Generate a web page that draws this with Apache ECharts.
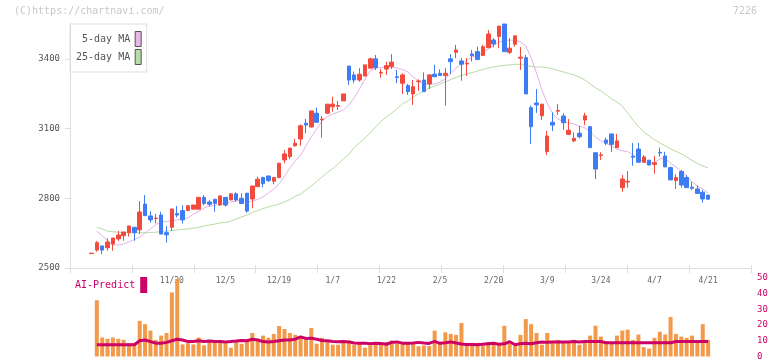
<!DOCTYPE html>
<html><head><meta charset="utf-8">
<script src="https://cdn.jsdelivr.net/npm/echarts@6/dist/echarts.min.js"></script>
<style>html,body{margin:0;padding:0;background:#fff}#c{width:772px;height:361px}</style>
</head><body><div id="c"></div>
<script>
// ---- data ----
const opens  = [2562,2577,2595,2587,2603,2625,2639,2652,2675,2664,2775,2724,2713,2728,2652,2675,2734,2747,2747,2753,2753,2804,2784,2796,2771,2804,2793,2819,2800,2822,2797,2850,2889,2896,2873,2889,2965,2979,3026,3055,3123,3107,3166,3138,3166,3194,3196,3219,3369,3331,3309,3326,3360,3400,3339,3356,3367,3323,3295,3285,3249,3302,3309,3292,3334,3338,3328,3400,3428,3391,3378,3421,3431,3414,3448,3481,3496,3550,3428,3463,3403,3405,3190,3210,3155,3001,3127,3175,3154,3075,3047,3080,3137,3108,2996,2984,3051,3077,3018,2846,2870,2981,3012,2955,2964,2946,2998,2982,2932,2876,2915,2889,2848,2840,2826,2814];
const closes = [2564,2609,2577,2612,2629,2642,2655,2681,2652,2741,2725,2707,2715,2646,2643,2754,2728,2707,2768,2771,2804,2778,2774,2778,2810,2771,2819,2793,2778,2745,2853,2882,2863,2876,2889,2951,2991,3016,3037,3112,3115,3176,3127,3141,3205,3205,3199,3249,3309,3309,3334,3374,3400,3362,3342,3371,3386,3320,3331,3259,3280,3305,3259,3331,3323,3328,3338,3388,3438,3377,3381,3414,3397,3452,3507,3464,3541,3431,3446,3499,3407,3249,3108,3202,3205,3068,3115,3178,3125,3093,3058,3065,3155,3018,2926,2987,3037,3032,3047,2883,2873,2977,2955,2978,2943,2953,2995,2935,2879,2889,2857,2846,2843,2821,2797,2796];
const lows   = [2562,2570,2560,2574,2574,2616,2617,2635,2617,2646,2725,2695,2692,2646,2609,2660,2718,2692,2747,2753,2753,2770,2765,2742,2767,2764,2793,2785,2778,2738,2757,2850,2847,2870,2860,2889,2951,2968,3022,3026,3080,3104,3127,3061,3162,3173,3180,3219,3288,3295,3302,3326,3360,3352,3319,3331,3356,3295,3249,3245,3202,3262,3259,3270,3323,3328,3199,3334,3403,3306,3326,3389,3397,3414,3448,3450,3446,3431,3420,3452,3352,3249,3034,3168,3137,2986,3090,3159,3094,3075,3041,3058,3115,3018,2883,2965,3029,3000,3018,2828,2846,2940,2955,2955,2943,2906,2979,2935,2879,2840,2846,2846,2836,2821,2781,2796];
const highs  = [2564,2616,2595,2628,2629,2659,2655,2681,2675,2788,2814,2744,2732,2742,2681,2754,2767,2770,2771,2771,2804,2814,2793,2796,2814,2804,2822,2826,2822,2822,2853,2893,2893,2896,2889,2951,3008,3016,3055,3118,3141,3176,3190,3154,3205,3237,3219,3249,3369,3345,3360,3374,3405,3417,3356,3388,3420,3352,3338,3292,3309,3312,3342,3334,3374,3355,3360,3420,3460,3403,3403,3438,3452,3460,3524,3489,3541,3550,3489,3499,3451,3417,3199,3270,3205,3090,3170,3205,3166,3141,3084,3111,3168,3111,2996,2998,3061,3077,3077,2900,2917,3038,3039,2986,2964,2982,3018,3000,2936,2903,2921,2900,2871,2854,2836,2814];
const ma5  = [null,2659,2638,2618,2599,2599,2603,2612,2623,2633,2651,2668,2687,2698,2700,2704,2707,2713,2715,2732,2743,2758,2767,2769,2775,2780,2784,2788,2793,2784,2788,2795,2806,2823,2840,2862,2894,2930,2960,2986,3025,3064,3098,3133,3152,3163,3171,3180,3202,3232,3270,3313,3348,3361,3363,3366,3365,3361,3354,3344,3322,3305,3292,3291,3292,3301,3313,3339,3361,3378,3395,3408,3415,3425,3443,3458,3473,3479,3481,3479,3473,3455,3404,3339,3266,3210,3165,3141,3130,3124,3120,3111,3103,3087,3064,3047,3036,3025,3012,3004,3001,2986,2971,2956,2950,2954,2969,2973,2950,2935,2917,2896,2872,2853,2840,2823];
const ma25 = [null,2675,2668,2659,2656,2654,2653,2652,2652,2652,2652,2653,2654,2657,2659,2661,2664,2666,2668,2671,2675,2681,2685,2689,2694,2696,2702,2711,2720,2728,2739,2747,2756,2763,2769,2775,2784,2795,2808,2818,2836,2853,2872,2892,2911,2928,2948,2969,2989,3019,3038,3060,3081,3107,3131,3150,3167,3186,3206,3219,3236,3249,3262,3275,3283,3292,3301,3311,3320,3329,3335,3341,3348,3354,3361,3365,3369,3372,3374,3377,3376,3372,3367,3365,3365,3363,3357,3350,3344,3337,3331,3322,3309,3292,3275,3262,3245,3228,3214,3197,3167,3137,3108,3086,3069,3052,3039,3026,3013,3002,2991,2978,2963,2950,2939,2931];
const volume = [null,35.8,12.1,11.3,12.1,11.3,10.6,8.5,8.5,22.7,20.6,16.5,10.6,13.3,15,40.8,49.4,7.7,8.5,7.7,12.1,7.1,9.6,9.2,9.2,8.5,5.6,9.2,8.1,10.2,15,11.3,13.3,11.9,14.4,19.4,17.5,15,13.8,12,10.5,18.1,8.1,11.9,9.8,7.5,7.5,9.6,10.2,7.5,8.1,5.6,8.1,7.5,7.5,9.2,10.2,8.5,9.2,8.1,9,6.5,7,6.7,16.5,8.1,15.4,14.4,13.8,21.3,8.1,8.7,8.7,6.7,9.2,8.1,8.1,19.6,8.1,6.7,13.8,23.8,20.6,15,7.5,15,10,10.6,9.8,9.8,10.6,7.5,9.8,13.3,19.6,12.7,9.8,8.1,13.3,16.5,17.1,10.6,14,6,5,11.9,15.8,14,25.2,14.4,12.7,11.9,13.3,9.8,20.6,10.6];
const aiPredict = [null,7.5,7.5,7.5,7.5,7.5,7.5,7.5,7.5,10,10.5,9.5,8.5,8.5,9,10,11,10.5,9.5,9.5,10,9.5,9.8,9.5,9.6,9.3,9.5,9.8,10.2,10,11,10.5,9.5,9.2,9.5,10,10.5,10.5,11,12.5,11.5,11.7,11,10.2,10,9.5,9.4,9.5,9.3,8.6,8.5,8.5,8.2,8.5,8.3,7.8,9,9.3,8.5,8.5,8.6,9,8.6,8.3,9.6,8.4,8.8,9.3,8.6,8,7.7,7.7,7.5,7.8,8.1,8.4,7.8,8.1,9.4,7.5,8.2,8.5,8.1,8.8,9.3,9,9.2,9.2,9.2,9.2,9.6,9.2,9.6,9.6,9.6,9.6,8.7,8.7,8.7,8.7,8.7,8.7,8.7,8.7,8.7,8.7,8.7,8.7,8.7,9.6,9.6,9.6,9.6,9.6,9.6,9.6];
const dateLabelIndex = [15,25,35,45,55,65,75,85,95,105,115];
const dateLabels = ['11/20','12/5','12/19','1/7','1/22','2/5','2/20','3/9','3/24','4/7','4/21'];
const priceTicks = [2500,2800,3100,3400];

// ---- build chart ----
const padLeft = 4, padRight = 8;
const N = padLeft + opens.length + padRight;
const cats = Array.from({length: N}, (_, k) => String(k));
const pad = (arr, fill) => [...Array(padLeft).fill(fill), ...arr, ...Array(padRight).fill(fill)];
const candles = pad(opens.map((o, i) => [o, closes[i], lows[i], highs[i]]), '-');
const labelMap = {};
dateLabelIndex.forEach((d, j) => { labelMap[d + padLeft] = dateLabels[j]; });

const MONO = '"DejaVu Sans Mono", "Liberation Mono", monospace';
const UP = '#f24b3d', DOWN = '#3d7cf2';

const chart = echarts.init(document.getElementById('c'), null, {renderer: 'canvas'});
chart.setOption({
  animation: false,
  backgroundColor: '#fff',
  graphic: [
    {type: 'text', left: 14, top: 6, style: {text: '(C)https://chartnavi.com/', fill: '#c8c8c8', font: '10px ' + MONO}},
    {type: 'text', right: 15, top: 6, style: {text: '7226', fill: '#c8c8c8', font: '10px ' + MONO}}
  ],
  legend: [
    {
      data: ['5-day MA', '25-day MA'], orient: 'vertical', left: 70, top: 24,
      align: 'right', icon: 'rect', itemWidth: 6, itemHeight: 15, itemGap: 2,
      padding: [7, 5, 7, 6], borderColor: '#ddd', borderWidth: 1, selectedMode: false,
      formatter: n => n.padStart(9, ' '),
      itemStyle: {borderColor: '#555', borderWidth: 1},
      textStyle: {fontFamily: MONO, fontSize: 10, color: '#555'}
    },
    {
      data: ['AI-Predict'], left: 75, top: 277, align: 'right', icon: 'rect',
      itemWidth: 7, itemHeight: 16, padding: 0, selectedMode: false,
      itemStyle: {borderWidth: 0},
      textStyle: {fontFamily: MONO, fontSize: 10, color: '#cc0066'}
    }
  ],
  grid: [
    {left: 70, width: 681, top: 24, height: 244},
    {left: 70, width: 681, top: 278, height: 80}
  ],
  xAxis: [
    {type: 'category', gridIndex: 0, data: cats, boundaryGap: false,
     axisLine: {show: false}, axisTick: {show: false}, splitLine: {show: false},
     axisLabel: {interval: 0, margin: 9, color: '#666', fontFamily: MONO, fontSize: 8,
       formatter: (v) => labelMap[v] || ''}},
    {type: 'value', gridIndex: 0, min: 0, max: 11, interval: 1, position: 'bottom',
     axisLine: {show: true, onZero: false, lineStyle: {color: '#ddd'}},
     axisTick: {show: true, length: 5, lineStyle: {color: '#ddd'}},
     axisLabel: {show: false}, splitLine: {show: false}},
    {type: 'value', gridIndex: 0, min: 0, max: 11, interval: 1, position: 'bottom',
     axisLine: {show: false, onZero: false},
     axisTick: {show: true, inside: true, length: 3, lineStyle: {color: '#ddd'}},
     axisLabel: {show: false}, splitLine: {show: false}},
    {type: 'category', gridIndex: 1, data: cats, boundaryGap: false, show: false}
  ],
  yAxis: [
    {type: 'value', gridIndex: 0, min: 2500, max: 3550, position: 'left',
     axisLine: {show: true, onZero: false, lineStyle: {color: '#ddd'}},
     axisTick: {show: true, length: 5, lineStyle: {color: '#ddd'}, customValues: priceTicks},
     axisLabel: {customValues: priceTicks, margin: 10, color: '#555', fontFamily: MONO, fontSize: 9,
       formatter: v => priceTicks.includes(v) ? String(v) : ''},
     splitLine: {show: false}},
    {type: 'value', gridIndex: 1, min: 0, max: 50, interval: 10, position: 'right',
     axisLine: {show: false}, axisTick: {show: false}, splitLine: {show: false},
     axisLabel: {margin: 6, color: '#cc0066', fontFamily: MONO, fontSize: 9}}
  ],
  series: [
    {type: 'line', name: '25-day MA', xAxisIndex: 0, yAxisIndex: 0, data: pad(ma25, null),
     symbol: 'none', color: '#b6dca6', lineStyle: {width: 1, color: '#b6dca6'}, z: 2},
    {type: 'line', name: '5-day MA', xAxisIndex: 0, yAxisIndex: 0, data: pad(ma5, null),
     symbol: 'none', color: '#e9b5e9', lineStyle: {width: 1, color: '#e6b0e8'}, z: 2},
    {type: 'candlestick', name: 'price', xAxisIndex: 0, yAxisIndex: 0, data: candles,
     barWidth: 4, z: 3,
     itemStyle: {color: UP, color0: DOWN, borderColor: UP, borderColor0: DOWN, borderWidth: 1}},
    {type: 'bar', name: 'Volume', xAxisIndex: 3, yAxisIndex: 1, data: pad(volume, null),
     barWidth: 4, itemStyle: {color: '#f2994a'}},
    {type: 'line', name: 'AI-Predict', xAxisIndex: 3, yAxisIndex: 1, data: pad(aiPredict, null),
     symbol: 'none', color: '#cc0066', lineStyle: {width: 3, color: '#cc0066'}, z: 5}
  ]
});
</script></body></html>
